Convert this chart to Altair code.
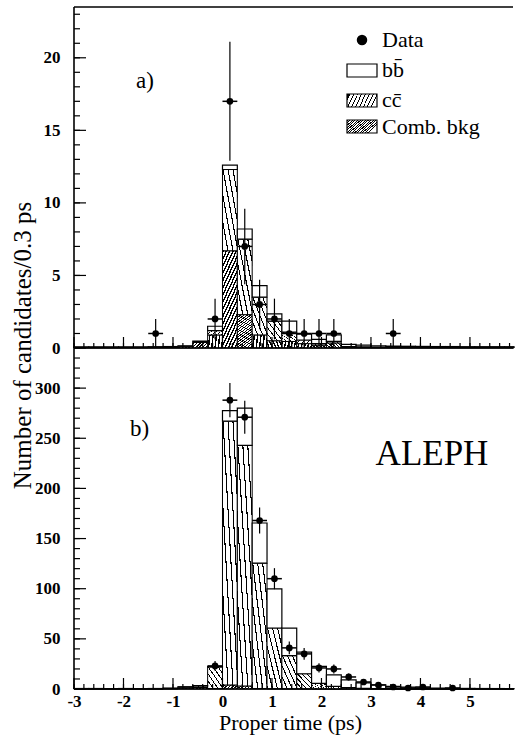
import altair as alt
import pandas as pd

# ---------------- data ----------------
BIN_LO = [-3.0, -2.7, -2.4, -2.1, -1.8, -1.5, -1.2, -0.9, -0.6, -0.3,
          0.0, 0.3, 0.6, 0.9, 1.2, 1.5, 1.8, 2.1, 2.4, 2.7,
          3.0, 3.3, 3.6, 3.9, 4.2, 4.5, 4.8, 5.1, 5.4, 5.7]
BIN_HI = [-2.7, -2.4, -2.1, -1.8, -1.5, -1.2, -0.9, -0.6, -0.3, 0.0,
          0.3, 0.6, 0.9, 1.2, 1.5, 1.8, 2.1, 2.4, 2.7, 3.0,
          3.3, 3.6, 3.9, 4.2, 4.5, 4.8, 5.1, 5.4, 5.7, 6.0]

# panel a) model components (stacked)
A_COMB = [0.03, 0.03, 0.03, 0.03, 0.03, 0.04, 0.05, 0.10, 0.40, 0.90,
          6.70, 2.30, 0.90, 0.50, 0.45, 0.30, 0.20, 0.35, 0.05, 0.05,
          0.03, 0.03, 0.03, 0.03, 0.03, 0.03, 0.03, 0.03, 0.03, 0.03]
A_CC = [0.02, 0.02, 0.02, 0.02, 0.02, 0.02, 0.02, 0.02, 0.02, 0.30,
        5.60, 5.20, 2.60, 1.35, 0.65, 0.25, 0.10, 0.10, 0.05, 0.03,
        0.02, 0.02, 0.02, 0.02, 0.02, 0.02, 0.02, 0.02, 0.02, 0.02]
A_BB = [0.03, 0.03, 0.03, 0.03, 0.03, 0.03, 0.03, 0.03, 0.05, 0.30,
        0.30, 0.70, 0.80, 0.50, 0.75, 0.40, 0.30, 0.45, 0.15, 0.12,
        0.10, 0.08, 0.07, 0.06, 0.05, 0.05, 0.04, 0.04, 0.04, 0.04]
A_DATA_X = [-1.35, -0.15, 0.15, 0.45, 0.75, 1.05, 1.35, 1.65, 1.95, 2.25, 3.45]
A_DATA_Y = [1, 2, 17, 7, 3, 2, 1, 1, 1, 1, 1]
A_DATA_ERR = [1.0, 1.4, 4.1, 2.6, 1.7, 1.4, 1.0, 1.0, 1.0, 1.0, 1.0]

# panel b) model components (stacked)
B_COMB = [0.1, 0.1, 0.1, 0.1, 0.1, 0.1, 0.3, 1.0, 1.5, 0.5,
          4.0, 3.0, 0.5, 0.3, 0.2, 0.2, 0.1, 0.1, 0.1, 0.1,
          0.1, 0.1, 0.1, 0.1, 0.1, 0.1, 0.1, 0.1, 0.1, 0.1]
B_CC = [0.2, 0.2, 0.2, 0.2, 0.2, 0.2, 0.3, 0.8, 1.5, 21.5,
        263.0, 240.0, 125.0, 60.5, 33.0, 15.0, 5.5, 2.5, 1.2, 0.6,
        0.3, 0.2, 0.1, 0.1, 0.1, 0.1, 0.1, 0.1, 0.1, 0.1]
B_BB = [0.2, 0.2, 0.2, 0.2, 0.2, 0.2, 0.3, 0.5, 0.5, 0.6,
        10.5, 37.0, 40.0, 39.0, 27.5, 21.5, 17.0, 11.5, 7.8, 5.4,
        3.7, 2.3, 1.6, 1.0, 0.7, 0.5, 0.4, 0.3, 0.25, 0.2]
B_DATA_X = [-0.15, 0.15, 0.45, 0.75, 1.05, 1.35, 1.65, 1.95, 2.25, 2.55,
            2.85, 3.15, 3.45, 3.75, 4.05, 4.65]
B_DATA_Y = [23, 288, 271, 168, 110, 41, 35, 21, 20, 12, 7, 4, 2, 1, 2, 1]
B_DATA_ERR = [4.8, 17.0, 16.5, 13.0, 10.5, 6.4, 5.9, 4.6, 4.5, 3.5,
              2.6, 2.0, 1.4, 1.0, 1.4, 1.0]

X_MAJOR = [-3, -2, -1, 0, 1, 2, 3, 4, 5]
X_MINOR = [round(-3 + 0.2 * i, 1) for i in range(45)]
A_Y_MAJOR = [0, 5, 10, 15, 20]
A_Y_MINOR = list(range(0, 24))
B_Y_MAJOR = [0, 50, 100, 150, 200, 250, 300]
B_Y_MINOR = list(range(0, 340, 10))

# ---------------- style ----------------
W, H = 440, 341
XMAX = 5.89
FONT = "Liberation Serif"
LBL = "datum.value < 0 ? '-' + abs(datum.value) : '' + datum.value"
FRAME_W = 1.6


def stripes(n, frac, x1, y1, x2, y2):
    stops = []
    for i in range(n):
        a = i / n
        b = a + frac / n
        c = (i + 1) / n
        stops += [{"offset": a, "color": "black"}, {"offset": b, "color": "black"},
                  {"offset": b, "color": "white"}, {"offset": c, "color": "white"}]
    return {"gradient": "linear", "x1": x1, "y1": y1, "x2": x2, "y2": y2, "stops": stops}


CC_FILL = stripes(6, 0.22, 0, 1, 1, 0)
COMB_FILL = stripes(18, 0.45, 0, 0, 0.4, 1.2)
CC_LEG = stripes(8, 0.25, 0, 0.4, 1, 0.6)
COMB_LEG = stripes(14, 0.45, 0, 0, 1, 0.47)

one = pd.DataFrame({"k": [0]})


def stacked(comb, cc, bb):
    c0, c1, cc1, t = [], [], [], []
    for a, b, c in zip(comb, cc, bb):
        c0.append(0.0)
        c1.append(a)
        cc1.append(a + b)
        t.append(a + b + c)
    base = {"lo": BIN_LO, "hi": BIN_HI}
    d1 = pd.DataFrame({**base, "y0": c0, "y1": c1})
    d2 = pd.DataFrame({**base, "y0": c1, "y1": cc1})
    d3 = pd.DataFrame({**base, "y0": cc1, "y1": t})
    return d1, d2, d3


def frame_line(x, x2, y, y2):
    return alt.Chart(one).mark_rule(color="black", strokeWidth=FRAME_W).encode(
        x=alt.value(x), x2=alt.value(x2), y=alt.value(y), y2=alt.value(y2))


def panel(comb, cc, bb, dx, dy, derr, ymax, ymaj, ymin, bottom, extra):
    xs = alt.Scale(domain=[-3, XMAX], nice=False, zero=False, clamp=True)
    ys = alt.Scale(domain=[0, ymax], nice=False, zero=False)
    common = dict(tickSize=0, domain=False, grid=False, labelFont=FONT,
                  labelFontWeight="bold", labelFontSize=17, labelColor="black",
                  titleColor="black", labelExpr=LBL)
    if bottom:
        xaxis = alt.Axis(values=X_MAJOR, labelPadding=4, labelFlush=False,
                         title="Proper time (ps)", titleFont=FONT, titleFontSize=22,
                         titleFontWeight="normal", titlePadding=3, titleX=216,
                         **common)
        yaxis = alt.Axis(values=ymaj, labelPadding=14, title="", **common)
    else:
        xaxis = None
        yaxis = alt.Axis(values=ymaj, labelPadding=14,
                         title="Number of candidates/0.3 ps", titleFont=FONT,
                         titleFontSize=25, titleFontWeight="normal",
                         titleX=-52, titleY=338, titleBaseline="middle", **common)

    def X(f):
        return alt.X(f, scale=xs, axis=xaxis)

    def Y(f):
        return alt.Y(f, scale=ys, axis=yaxis)

    d1, d2, d3 = stacked(comb, cc, bb)
    comb_l = alt.Chart(d1).mark_rect(fill=COMB_FILL, stroke="black", strokeWidth=1).encode(
        x=X("lo:Q"), x2="hi:Q", y=Y("y0:Q"), y2="y1:Q")
    cc_l = alt.Chart(d2).mark_rect(fill=CC_FILL, stroke="black", strokeWidth=1).encode(
        x=X("lo:Q"), x2="hi:Q", y=Y("y0:Q"), y2="y1:Q")
    bb_l = alt.Chart(d3).mark_rect(fill="white", stroke="black", strokeWidth=1.2).encode(
        x=X("lo:Q"), x2="hi:Q", y=Y("y0:Q"), y2="y1:Q")

    dd = pd.DataFrame({"x": dx, "y": dy, "e": derr})
    dd["lo"] = dd["y"] - dd["e"]
    dd["hi"] = dd["y"] + dd["e"]
    dd["xl"] = dd["x"] - 0.15
    dd["xr"] = dd["x"] + 0.15
    ev = alt.Chart(dd).mark_rule(color="black", strokeWidth=1.2).encode(
        x=X("x:Q"), y=Y("lo:Q"), y2="hi:Q")
    eh = alt.Chart(dd).mark_rule(color="black", strokeWidth=1.5).encode(
        x=X("xl:Q"), x2="xr:Q", y=Y("y:Q"))
    pts = alt.Chart(dd).mark_circle(color="black", opacity=1, size=45).encode(
        x=X("x:Q"), y=Y("y:Q"))

    def yt(vals, ln):
        return alt.Chart(pd.DataFrame({"v": vals})).mark_rule(color="black", strokeWidth=1.2).encode(
            y=Y("v:Q"), x=alt.value(0), x2=alt.value(ln))

    def xt(vals, ln):
        return alt.Chart(pd.DataFrame({"v": vals})).mark_rule(color="black", strokeWidth=1.2).encode(
            x=X("v:Q"), y=alt.value(H), y2=alt.value(H - ln))

    frames = [frame_line(0, 0, 0, H), frame_line(0, W - 1, H, H)]
    if not bottom:
        frames.append(frame_line(0, W - 1, 0, 0))
    layers = [comb_l, cc_l, bb_l, ev, eh, pts,
              yt(ymin, 6), yt(ymaj, 12), xt(X_MINOR, 5), xt(X_MAJOR, 11)] + frames + extra
    return alt.layer(*layers).properties(width=W, height=H)


def txt(s, x, y, size, align="left"):
    return alt.Chart(one).mark_text(text=s, font=FONT, fontSize=size, align=align,
                                    baseline="middle", color="black").encode(
        x=alt.value(x), y=alt.value(y))


def box(x, y, fill):
    return alt.Chart(one).mark_rect(fill=fill, stroke="black", strokeWidth=1.2).encode(
        x=alt.value(x), x2=alt.value(x + 30), y=alt.value(y), y2=alt.value(y + 13))


legend = [
    alt.Chart(one).mark_circle(color="black", opacity=1, size=110).encode(
        x=alt.value(288), y=alt.value(33)),
    txt("Data", 308, 33, 22),
    box(273, 57, "white"), txt("bb\u0304", 308, 63, 22),
    box(273, 87, CC_LEG), txt("cc\u0304", 308, 93, 22),
    box(273, 113, COMB_LEG), txt("Comb. bkg", 308, 120, 22),
    txt("a)", 62, 74, 23),
]

top = panel(A_COMB, A_CC, A_BB, A_DATA_X, A_DATA_Y, A_DATA_ERR, 23.5,
            A_Y_MAJOR, A_Y_MINOR, False, legend)
bot = panel(B_COMB, B_CC, B_BB, B_DATA_X, B_DATA_Y, B_DATA_ERR, 340,
            B_Y_MAJOR, B_Y_MINOR, True,
            [txt("b)", 56, 81, 23), txt("ALEPH", 358, 106, 35, "center")])

chart = alt.vconcat(top, bot, spacing=0, bounds="flush").properties(
    padding={"left": 10, "top": 6, "right": 0, "bottom": 2}
).configure_view(strokeOpacity=0)

chart.save("out.html", embed_options={"renderer": "svg", "actions": False})
